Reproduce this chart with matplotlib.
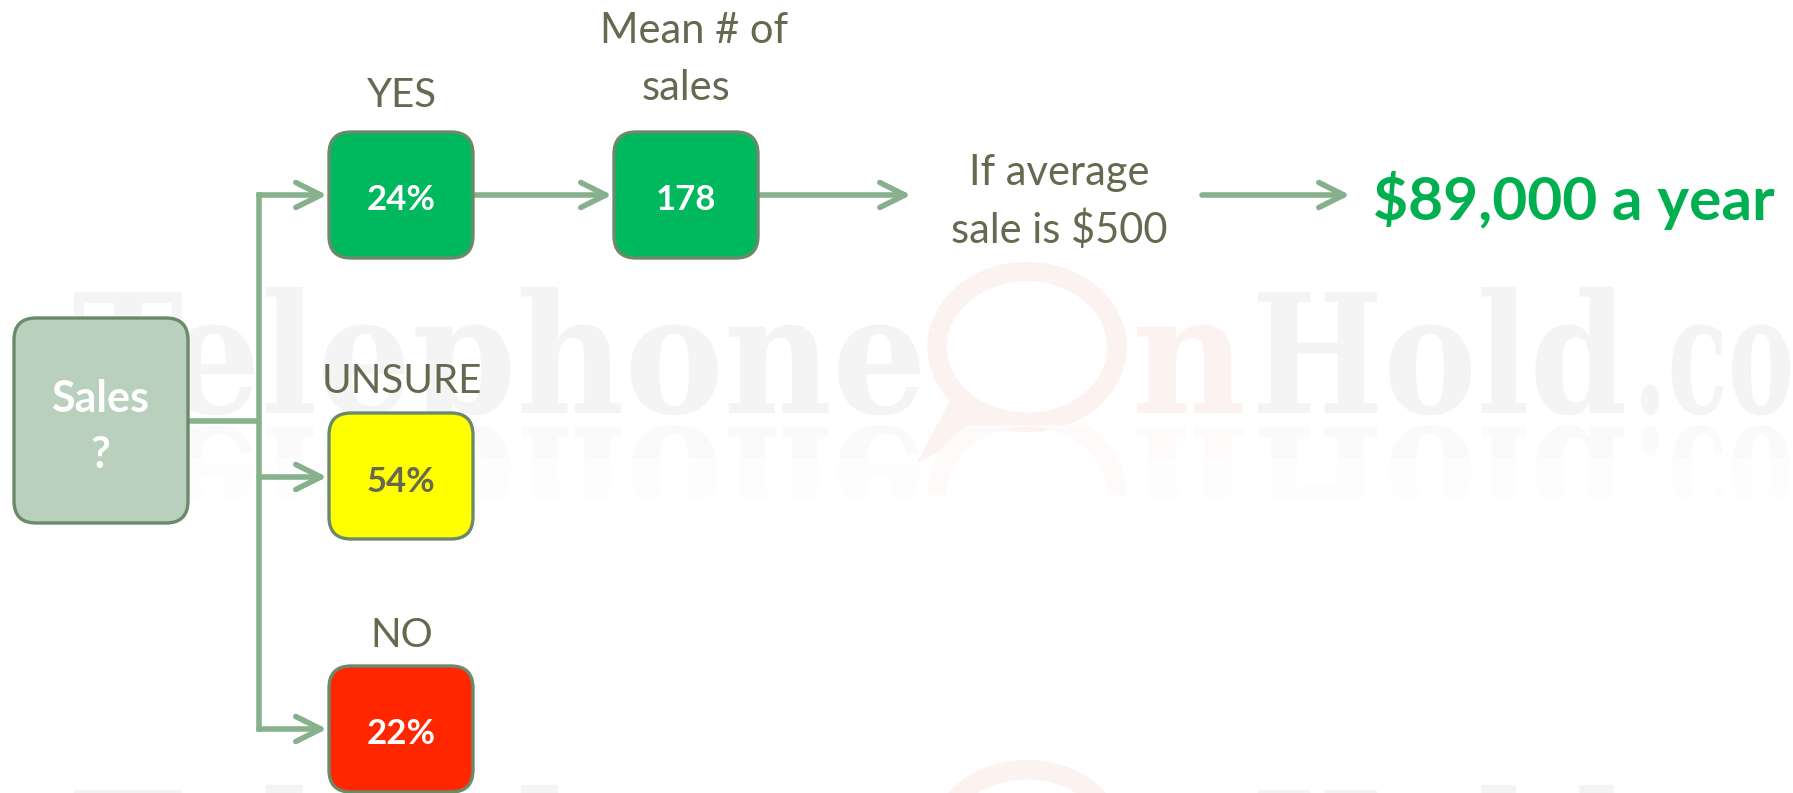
import matplotlib
matplotlib.use("Agg")
import matplotlib.pyplot as plt
from matplotlib.patches import FancyBboxPatch, PathPatch, Ellipse, Polygon, Rectangle
from matplotlib.textpath import TextPath
from matplotlib.font_manager import FontProperties
from matplotlib.transforms import Affine2D

W, H = 1793, 793

# Survey answers
branch_labels = ["YES", "UNSURE", "NO"]
branch_shares = [24, 54, 22]
branch_fill = ["#00B85E", "#FFFF00", "#FF2600"]
branch_text = ["white", "#66684F", "white"]

mean_sales = 178
avg_sale = 500
yearly_total = 89000

# Colors
TEXT = "#66684F"
ARROW = "#87B18D"
EDGE = "#6B8A6B"
SALES_FILL = "#B9D0BC"
MONEY = "#00B050"
WM_GRAY = "#F4F4F4"
WM_PINK = "#FCF2F0"

FONT = ["Lato", "DejaVu Sans"]


def draw_watermark(ax, base):
    """Faint TelephoneOnHold.com logo with reflection, baseline at y=base."""
    prop = FontProperties(family="DejaVu Serif", weight="bold", size=100)
    cap = TextPath((0, 0), "H", prop=prop).get_extents().y1
    sy = 121 / cap
    # (text, left, right of fitted part, fitted part, colour)
    segs = [("Telephone", 74, 920, "Telephone", WM_GRAY),
            ("n", 1137, 1243, "n", WM_PINK),
            ("Hold", 1258, 1624, "Hold", WM_GRAY),
            (".com", 1641, 1790, ".co", WM_GRAY)]
    for s, x0, x1, fit, c in segs:
        tp = TextPath((0, 0), s, prop=prop)
        fext = TextPath((0, 0), fit, prop=prop).get_extents()
        ox = fext.x0
        sx = (x1 - x0) / fext.width
        tr = Affine2D().translate(-ox, 0).scale(sx, -sy).translate(x0, base)
        ax.add_patch(PathPatch(tr.transform_path(tp), fc=c, ec="none", zorder=0))
        trr = Affine2D().translate(-ox, 0).scale(sx, sy).translate(x0, base + 14)
        rc = "#FEFAF9" if c == WM_PINK else "#FAFAFA"
        for (y0, y1, cc) in [(base + 12, base + 45, rc), (base + 45, base + 85, "#FDFDFD")]:
            p = PathPatch(trr.transform_path(tp), fc=cc, ec="none", zorder=0)
            ax.add_patch(p)
            p.set_clip_path(Rectangle((0, y0), W, y1 - y0, transform=ax.transData))
    # speech bubble "O"
    cx, cy = 1027, base - 66
    ax.add_patch(Ellipse((cx, cy), 180, 151, fill=False, ec=WM_PINK, lw=14, zorder=0))
    ax.add_patch(Polygon([(cx - 70, cy + 40), (cx - 110, base + 50), (cx - 20, cy + 70)],
                         closed=True, fc=WM_PINK, ec="none", zorder=0))
    rb = Ellipse((cx, base + 14 + 66), 180, 151, fill=False, ec="#FEFAF9", lw=14, zorder=0)
    ax.add_patch(rb)
    rb.set_clip_path(Rectangle((0, base + 12), W, 70, transform=ax.transData))


def box(ax, x, y, w, h, fc):
    ax.add_patch(FancyBboxPatch((x, y), w, h, boxstyle="round,pad=0,rounding_size=22",
                                fc=fc, ec=EDGE, lw=2.4, zorder=3))


def arrow(ax, x0, x1, y):
    ax.annotate("", xy=(x1, y), xytext=(x0, y),
                arrowprops=dict(arrowstyle="->,head_length=0.9,head_width=0.45",
                                color=ARROW, lw=4, mutation_scale=20,
                                shrinkA=0, shrinkB=0, capstyle="round",
                                joinstyle="round"),
                zorder=2)


fig = plt.figure(figsize=(W / 100, H / 100), dpi=100)
ax = fig.add_axes([0, 0, 1, 1])
ax.set_xlim(0, W)
ax.set_ylim(H, 0)
ax.axis("off")

for base in (413 - 498, 413, 413 + 498):
    draw_watermark(ax, base)

# Root box
box(ax, 14, 318, 174, 205, SALES_FILL)
ax.text(100, 412, "Sales", ha="center", va="baseline", fontsize=31,
        fontweight="bold", color="white", family=FONT, zorder=4)
ax.text(100, 468, "?", ha="center", va="baseline", fontsize=31,
        fontweight="bold", color="white", family=FONT, zorder=4)

# Connector and trunk
trunk_x = 259
arrow_ys = [195, 477, 729]
box_tops = [132, 413, 666]
label_base = [107, 393, 647]
ax.plot([188, trunk_x], [421, 421], color=ARROW, lw=4, solid_capstyle="butt", zorder=2)
ax.plot([trunk_x, trunk_x], [arrow_ys[0], arrow_ys[-1]], color=ARROW, lw=4,
        solid_capstyle="projecting", zorder=2)

for lab, share, fc, tc, ya, yt, yl in zip(branch_labels, branch_shares, branch_fill,
                                          branch_text, arrow_ys, box_tops, label_base):
    arrow(ax, trunk_x, 327, ya)
    box(ax, 329, yt, 144, 126, fc)
    ax.text(401, ya + 15, f"{share}%", ha="center", va="baseline", fontsize=25,
            fontweight="bold", color=tc, family=FONT, zorder=4)
    ax.text(402, yl, lab, ha="center", va="baseline", fontsize=29,
            color=TEXT, family=FONT, zorder=4)

# Mean number of sales
arrow(ax, 473, 612, arrow_ys[0])
box(ax, 614, 132, 144, 126, branch_fill[0])
ax.text(686, arrow_ys[0] + 15, f"{mean_sales}", ha="center", va="baseline",
        fontsize=25, fontweight="bold", color="white", family=FONT, zorder=4)
ax.text(694, 43, "Mean # of", ha="center", va="baseline", fontsize=30,
        color=TEXT, family=FONT)
ax.text(686, 100, "sales", ha="center", va="baseline", fontsize=30,
        color=TEXT, family=FONT)

# Average sale
arrow(ax, 758, 911, arrow_ys[0])
ax.text(1059, 185, "If average", ha="center", va="baseline", fontsize=30,
        color=TEXT, family=FONT)
ax.text(1059, 243, f"sale is ${avg_sale}", ha="center", va="baseline", fontsize=30,
        color=TEXT, family=FONT)

# Yearly total
arrow(ax, 1202, 1350, arrow_ys[0])
ax.text(1373, 220, f"${yearly_total:,} a year", ha="left", va="baseline",
        fontsize=43.5, fontweight="bold", color=MONEY, family=FONT)

fig.savefig("out.png", dpi=100, facecolor="white")
